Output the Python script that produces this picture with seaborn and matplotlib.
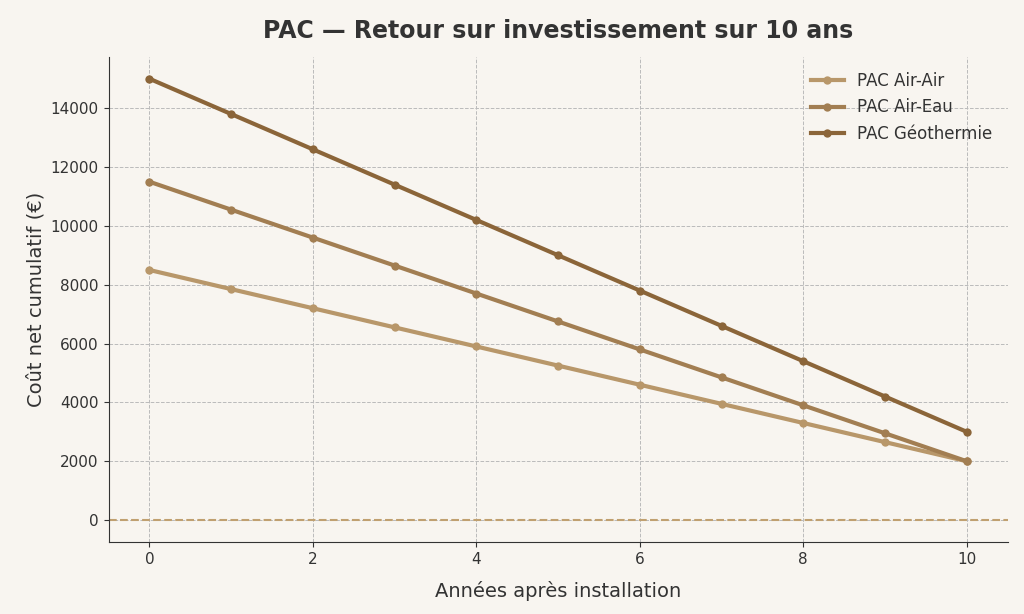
import numpy as np
import pandas as pd
import matplotlib.pyplot as plt
import seaborn as sns

years = list(range(0, 11))
air_air = [8500, 7850, 7200, 6550, 5900, 5250, 4600, 3950, 3300, 2650, 2000]
air_eau = [11500, 10550, 9600, 8650, 7700, 6750, 5800, 4850, 3900, 2950, 2000]
geo = [15000, 13800, 12600, 11400, 10200, 9000, 7800, 6600, 5400, 4200, 3000]
labels = ['PAC Air-Air', 'PAC Air-Eau', 'PAC Géothermie']
colors = ['#b8976a', '#a27e52', '#8b6539']

df = pd.DataFrame({'annee': years * 3,
                   'cout': air_air + air_eau + geo,
                   'type': sum([[l] * len(years) for l in labels], [])})

bg = '#f8f5f0'
fig, ax = plt.subplots(figsize=(10.24, 6.14), dpi=100)
fig.patch.set_facecolor(bg)
ax.set_facecolor(bg)

sns.lineplot(data=df, x='annee', y='cout', hue='type', palette=colors,
             marker='o', markersize=6, markeredgewidth=0, linewidth=3, ax=ax)
ax.axhline(0, color='#c0a070', linestyle='--', linewidth=1.5)

ax.set_xlim(-0.5, 10.5)
ax.set_ylim(-750, 15735)
ax.set_xticks(range(0, 11, 2))
ax.set_yticks(range(0, 14001, 2000))
ax.grid(True, linestyle='--', color='#bbbbbb', linewidth=0.7)
for s in ['top', 'right']:
    ax.spines[s].set_visible(False)
ax.spines['left'].set_color('#333333')
ax.spines['bottom'].set_color('#333333')
ax.tick_params(colors='#333333', labelsize=11)

ax.set_title('PAC — Retour sur investissement sur 10 ans', fontsize=17,
             fontweight='bold', color='#333333', pad=14)
ax.set_xlabel('Années après installation', fontsize=14, color='#333333', labelpad=10)
ax.set_ylabel('Coût net cumulatif (€)', fontsize=14, color='#333333')
leg = ax.legend(frameon=False, fontsize=12, loc='upper right')
for t in leg.get_texts():
    t.set_color('#333333')

plt.subplots_adjust(left=0.106, right=0.984, top=0.907, bottom=0.117)
plt.savefig('out.png', dpi=100, facecolor=bg)
